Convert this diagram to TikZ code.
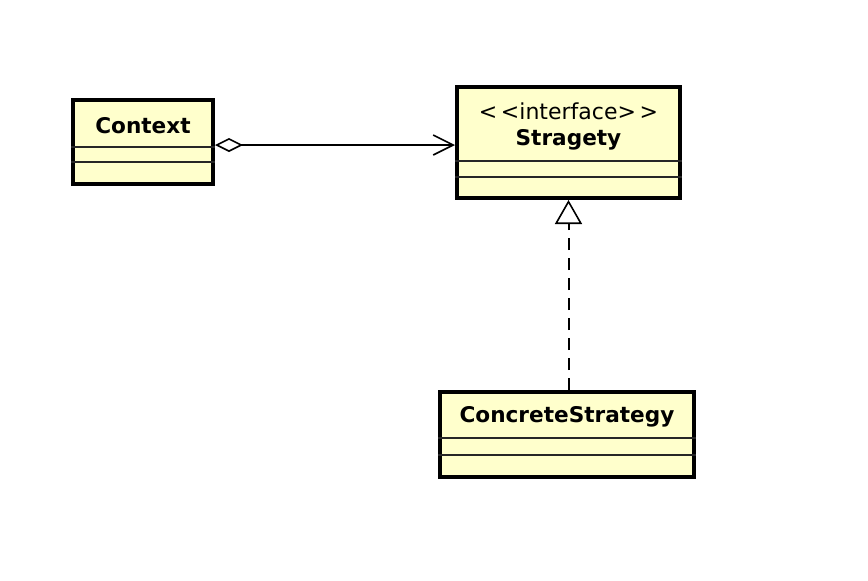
\documentclass[tikz,border=0pt]{standalone}
\usepackage{fontspec}
\setmainfont{DejaVu Sans}
\usetikzlibrary{arrows.meta}
\definecolor{classfill}{RGB}{255,255,204}

\tikzset{
  classbox/.style={draw, line width=2pt, fill=classfill},
  classname/.style={font=\fontsize{10.8}{13}\selectfont\bfseries},
  stereo/.style={font=\fontsize{11}{13}\selectfont},
  sep/.style={line width=0.75pt, draw=black!85}
}

\begin{document}
\begin{tikzpicture}[x=0.5pt, y=-0.5pt]
     \useasboundingbox (0,0) rectangle (868,580);

     % class boxes
     \node[classbox, minimum width=70pt, minimum height=42pt] (context) at (143,142) {};
     \node[classbox, minimum width=111.5pt, minimum height=55.5pt] (stragety) at (568.5,142.5) {};
     \node[classbox, minimum width=127pt, minimum height=42.5pt] (concrete) at (567,434.5) {};

     % names
     \node[classname] (contextname) at (143,126) {Context};
     \node[stereo] (stragetystereo) at (568.5,111) {<\,<interface>\,>};
     \node[classname] (stragetyname) at (568.5,140) {Stragety};
     \node[classname] (concretename) at (567,417) {ConcreteStrategy};

     % compartments
     \draw[sep] (context.west |- 0,147) -- (context.east |- 0,147);
     \draw[sep] (context.west |- 0,162) -- (context.east |- 0,162);
     \draw[sep] (stragety.west |- 0,161) -- (stragety.east |- 0,161);
     \draw[sep] (stragety.west |- 0,177) -- (stragety.east |- 0,177);
     \draw[sep] (concrete.west |- 0,438) -- (concrete.east |- 0,438);
     \draw[sep] (concrete.west |- 0,455) -- (concrete.east |- 0,455);

     % relations
     \draw[line width=0.8pt, {Diamond[open,length=14pt,width=7pt]}-{Straight Barb[length=10pt,width=10pt]}]
       (context.east |- 0,145) -- (stragety.west |- 0,145);
     \draw[line width=1pt, dash pattern=on 6pt off 4pt, -{Triangle[open,length=12pt,width=13.5pt,line width=0.8pt]}]
       (stragety.south |- concrete.north) -- (stragety.south);
   \end{tikzpicture}
\end{document}
